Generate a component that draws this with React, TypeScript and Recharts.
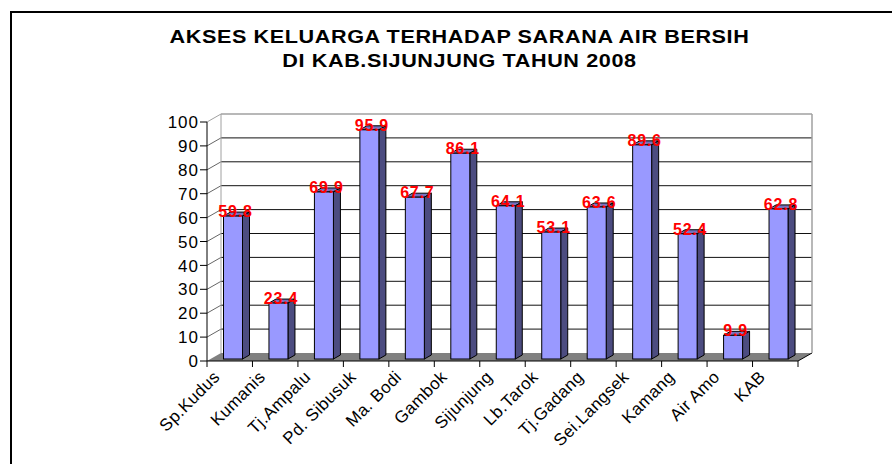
import React from 'react';
import { BarChart, Bar, XAxis, YAxis, CartesianGrid, LabelList } from 'recharts';

const categories = ['Sp.Kudus', 'Kumanis', 'Tj.Ampalu', 'Pd. Sibusuk', 'Ma. Bodi', 'Gambok', 'Sijunjung', 'Lb.Tarok', 'Tj.Gadang', 'Sei.Langsek', 'Kamang', 'Air Amo', 'KAB'];
const aksesAir = [59.8, 23.4, 69.9, 95.9, 67.7, 86.1, 64.1, 53.1, 63.6, 89.6, 52.4, 9.9, 62.8];
const yTicks = [0, 10, 20, 30, 40, 50, 60, 70, 80, 90, 100];

const data = categories.map((name, i) => ({ name, value: aksesAir[i] }));

const FONT = '"Liberation Sans", Arial, sans-serif';
// depth of the 3d walls
const DX = 14;
const DY = 8;

function GridLine(p: any) {
  const { x1, x2, y1, y, height, index } = p;
  const bottom = y + height;
  const bx = x1 + DX;
  const isTop = Math.abs(y1 - y) < 0.5;
  const isFloor = Math.abs(y1 - bottom) < 0.5;
  return (
    <g key={`gl-${index}`}>
      {isFloor && (
        <polygon points={`${x1},${y1} ${x2},${y1} ${x2 + DX},${y1 - DY} ${bx},${y1 - DY}`} fill="#808080" />
      )}
      {isFloor && <line x1={x2} y1={y1} x2={x2 + DX} y2={y1 - DY} stroke="#000" />}
      {isTop && (
        <>
          <line x1={bx} y1={y - DY} x2={bx} y2={bottom - DY} stroke="#a0a0a0" />
          <line x1={x2 + DX} y1={y - DY} x2={x2 + DX} y2={bottom - DY} stroke="#a0a0a0" strokeWidth={1.5} />
        </>
      )}
      {!isFloor && <line x1={x1} y1={y1} x2={bx} y2={y1 - DY} stroke={isTop ? '#a0a0a0' : '#666'} />}
      {!isFloor && (
        <line x1={bx} y1={y1 - DY} x2={x2 + DX} y2={y1 - DY} stroke={isTop ? '#a0a0a0' : '#111'} strokeWidth={isTop ? 1.5 : 1} />
      )}
    </g>
  );
}

function Bar3D(p: any) {
  const { x, y, width, height } = p;
  if (height == null || height <= 0) return <g />;
  const fx = x + 3.5;
  const fy = y - 2;
  const d = 7;
  const e = 4;
  return (
    <g stroke="#000" strokeWidth={1}>
      <polygon points={`${fx},${fy} ${fx + d},${fy - e} ${fx + width + d},${fy - e} ${fx + width},${fy}`} fill="#7373bf" />
      <polygon
        points={`${fx + width},${fy} ${fx + width + d},${fy - e} ${fx + width + d},${fy + height - e} ${fx + width},${fy + height}`}
        fill="#4c4c80"
      />
      <rect x={fx} y={fy} width={width} height={height} fill="#9999ff" />
    </g>
  );
}

function CatTick(p: any) {
  const { x, y, payload, index } = p;
  const off = payload.offset ?? 0;
  const last = index === categories.length - 1;
  const tx = x - 9;
  const ty = y + 17;
  return (
    <g>
      <line x1={x - off} y1={y} x2={x - off} y2={y + 6} stroke="#000" />
      {last && <line x1={x + off} y1={y} x2={x + off} y2={y + 6} stroke="#000" />}
      <text
        x={tx}
        y={ty}
        transform={`rotate(-45 ${tx} ${ty})`}
        textAnchor="end"
        fontSize={17}
        letterSpacing={0.4}
        fontFamily={FONT}
        fill="#000"
      >
        {payload.value}
      </text>
    </g>
  );
}

function ValTick(p: any) {
  const { x, y, payload } = p;
  return (
    <text x={x} y={y} dy="0.36em" textAnchor="end" fontSize={17} letterSpacing={1} fontFamily={FONT} fill="#000">
      {payload.value}
    </text>
  );
}

function ValueLabel(p: any) {
  const { x, y, width, value } = p;
  return (
    <text
      x={x + width / 2 + 6}
      y={y - 1}
      textAnchor="middle"
      fontSize={16}
      fontWeight="bold"
      letterSpacing={0.8}
      fontFamily={FONT}
      fill="#ff0000"
    >
      {value}
    </text>
  );
}

export default function App() {
  return (
    <div style={{ position: 'absolute', left: 0, top: 0, width: 892, height: 464, overflow: 'hidden', background: '#fff' }}>
      <div style={{ position: 'absolute', left: 10, top: 11, width: 900, height: 480, border: '2px solid #000' }} />
      <div
        style={{
          position: 'absolute',
          left: 0,
          width: 919,
          top: 25,
          textAlign: 'center',
          fontFamily: FONT,
          fontWeight: 'bold',
          fontSize: 18,
          lineHeight: '24px',
          letterSpacing: 0.5,
          color: '#000',
          transform: 'scaleX(1.2)',
          transformOrigin: '459.5px 0',
        }}
      >
        <div>AKSES KELUARGA TERHADAP SARANA AIR BERSIH</div>
        <div>DI KAB.SIJUNJUNG TAHUN 2008</div>
      </div>
      <BarChart
        width={892}
        height={464}
        data={data}
        margin={{ top: 122, right: 94, left: 167, bottom: 23 }}
        style={{ position: 'absolute', left: 0, top: 0 }}
      >
        <CartesianGrid vertical={false} horizontal={GridLine} />
        <XAxis
          dataKey="name"
          height={80}
          interval={0}
          tickLine={false}
          tickSize={0}
          tickMargin={0}
          axisLine={{ stroke: '#000' }}
          tick={CatTick}
        />
        <YAxis
          width={40}
          domain={[0, 100]}
          ticks={yTicks}
          interval={0}
          tickSize={7}
          tickMargin={1}
          axisLine={{ stroke: '#000' }}
          tickLine={{ stroke: '#000' }}
          tick={ValTick}
        />
        <Bar dataKey="value" barSize={19} shape={Bar3D} isAnimationActive={false}>
          <LabelList dataKey="value" content={ValueLabel} />
        </Bar>
      </BarChart>
    </div>
  );
}
